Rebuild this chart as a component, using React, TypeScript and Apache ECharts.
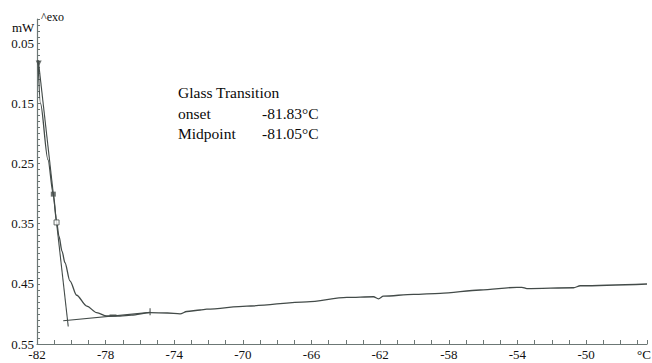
import React, { useEffect, useRef } from "react";
import * as echarts from "echarts";

// Sample DSC curve (temperature °C, heat flow mW)
const curveT = [-81.94, -81.8, -81.36, -81.05, -80.86, -80.72, -80.54, -80.37, -80.08, -79.69, -79.1, -78.52, -77.94, -77.16, -76.5, -75.41, -74.4, -73.66, -73.27, -72.49, -72.11, -69.77, -66.27, -63.94, -62.39, -62.1, -61.81, -60.06, -58.5, -56.17, -54.03, -53.74, -53.45, -50.73, -50.34, -46.45];
const curveV = [0.078, 0.15, 0.244, 0.301, 0.347, 0.371, 0.396, 0.415, 0.445, 0.469, 0.487, 0.498, 0.5035, 0.5035, 0.502, 0.498, 0.4985, 0.5, 0.496, 0.4935, 0.492, 0.487, 0.48, 0.4725, 0.4715, 0.475, 0.4705, 0.4675, 0.4658, 0.4603, 0.4558, 0.4558, 0.458, 0.4565, 0.4532, 0.4503];

// Tangent lines
const steepT = [-81.91, -80.18];
const steepV = [0.082, 0.521];
const baseT = [-80.47, -75.4];
const baseV = [0.5113, 0.4975];

// Markers
const startMark = [-81.9, 0.084];
const midMark = [-81.05, 0.301];
const hollowMark = [-80.86, 0.348];
const plusMark = [-75.41, 0.4965];
const dashMark = [-77.57, 0.5025];

// Axis labels
const xLabelValues = [-82, -78, -74, -70, -66, -62, -58, -54, -50];
const yLabelValues = [0.05, 0.15, 0.25, 0.35, 0.45, 0.55];

const resultTitle = "Glass Transition";
const resultNames = ["onset", "Midpoint"];
const resultValues = ["-81.83°C", "-81.05°C"];

const FONT = "Liberation Serif, serif";
const LINE = "#434b49";
const AXIS = "#6c7775";

export default function App() {
  const ref = useRef<HTMLDivElement>(null);
  useEffect(() => {
    if (!ref.current) return;
    const chart = echarts.init(ref.current, undefined, { renderer: "svg" });
    const pairs = (xs: number[], ys: number[]) => xs.map((x, i) => [x, ys[i]]);
    const txt = (text: string, x: number, y: number, size: number, align = "left") => ({
      type: "text",
      x,
      y,
      style: { text, fontFamily: FONT, fontSize: size, fill: "#0a0a0a", align, verticalAlign: "middle" },
    });
    chart.setOption({
      animation: false,
      backgroundColor: "#ffffff",
      grid: { left: 37, right: 5, top: 19, bottom: 19, containLabel: false },
      xAxis: {
        type: "value",
        min: -82,
        max: -46.45,
        interval: 1,
        axisLine: { show: true, lineStyle: { color: AXIS, width: 1.2 } },
        axisTick: { show: true, inside: true, length: 4, lineStyle: { color: AXIS } },
        splitLine: { show: false },
        axisLabel: {
          margin: 4,
          color: "#111",
          fontFamily: FONT,
          fontSize: 13,
          formatter: (v: number) => {
            const r = Math.round(v);
            return xLabelValues.includes(r) && Math.abs(v - r) < 1e-6 ? String(r) : "";
          },
        },
      },
      yAxis: {
        type: "value",
        inverse: true,
        min: 0.01,
        max: 0.55,
        interval: 0.01,
        axisLine: { show: true, lineStyle: { color: AXIS, width: 1.2 } },
        axisTick: { show: true, inside: true, length: 3, lineStyle: { color: AXIS } },
        splitLine: { show: false },
        axisLabel: {
          margin: 3,
          color: "#111",
          fontFamily: FONT,
          fontSize: 13,
          formatter: (v: number) => {
            const n = Math.round(v * 100);
            return yLabelValues.some((y) => Math.round(y * 100) === n) ? (n / 100).toFixed(2) : "";
          },
        },
      },
      graphic: [
        txt("mW", 12, 27, 13),
        txt("^exo", 41, 17, 12),
        txt("°C", 644, 354, 13, "center"),
        txt(resultTitle, 178, 92, 15.5),
        txt(resultNames[0], 178, 113, 15.5),
        txt(resultValues[0], 262, 113, 15.5),
        txt(resultNames[1], 178, 133, 15.5),
        txt(resultValues[1], 262, 133, 15.5),
      ],
      series: [
        {
          type: "line",
          data: pairs(curveT, curveV),
          showSymbol: false,
          smooth: 0.3,
          smoothMonotone: "x",
          lineStyle: { color: LINE, width: 1.3 },
          z: 3,
        },
        {
          type: "line",
          data: pairs(steepT, steepV),
          showSymbol: false,
          lineStyle: { color: LINE, width: 1.1 },
          z: 2,
        },
        {
          type: "line",
          data: pairs(baseT, baseV),
          showSymbol: false,
          lineStyle: { color: LINE, width: 1.1 },
          z: 2,
        },
        {
          type: "scatter",
          data: [startMark],
          symbol: "triangle",
          symbolRotate: 180,
          symbolSize: 6,
          itemStyle: { color: LINE },
          z: 4,
        },
        {
          type: "scatter",
          data: [midMark],
          symbol: "rect",
          symbolSize: 5,
          itemStyle: { color: LINE },
          z: 4,
        },
        {
          type: "scatter",
          data: [hollowMark],
          symbol: "rect",
          symbolSize: 5,
          itemStyle: { color: "#ffffff", borderColor: LINE, borderWidth: 1 },
          z: 4,
        },
        {
          type: "scatter",
          data: [plusMark],
          symbol: "rect",
          symbolSize: [1.3, 7],
          itemStyle: { color: LINE },
          z: 4,
        },
        {
          type: "scatter",
          data: [dashMark],
          symbol: "rect",
          symbolSize: [7, 2],
          itemStyle: { color: LINE },
          z: 4,
        },
      ],
    });
    return () => chart.dispose();
  }, []);
  return (
    <div
      ref={ref}
      style={{ position: "fixed", left: 0, top: 0, width: 652, height: 363, background: "#fff" }}
    />
  );
}
